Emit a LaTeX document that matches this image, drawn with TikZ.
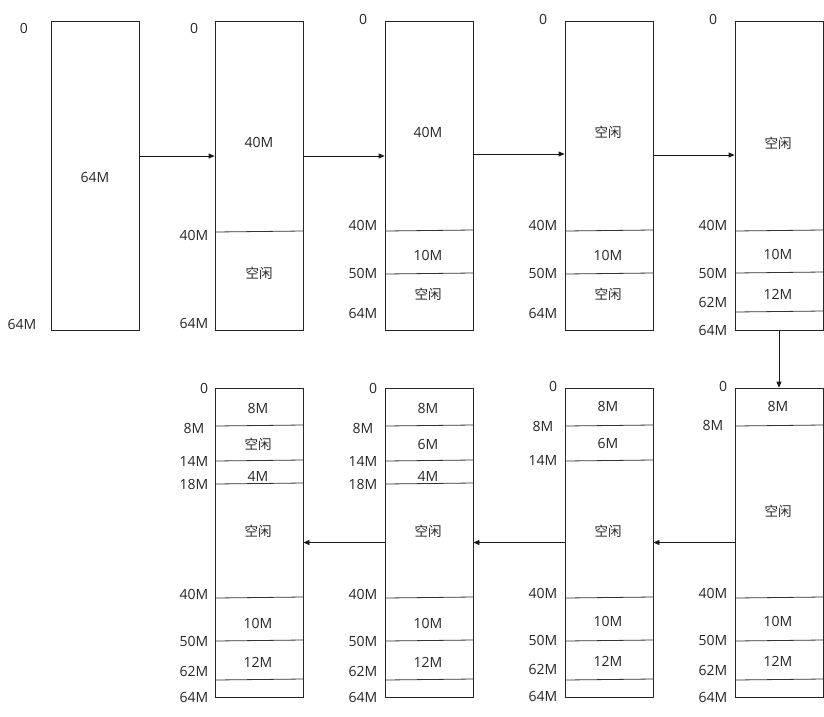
\documentclass[tikz,border=0pt]{standalone}
\usepackage{fontspec}
\setmainfont{Open Sans}
\newfontfamily\cjk{Noto Sans CJK SC}
\newcommand{\kx}{{\cjk\fontsize{13.5}{15}\selectfont 空闲}}
\usetikzlibrary{arrows.meta}
\tikzset{
  mem/.style={draw=black!85, line width=0.8pt, minimum width=88pt, minimum height=309pt, inner sep=0pt},
  div/.style={draw=black!80, line width=0.8pt},
  lbl/.style={font=\fontsize{14}{16}\selectfont, text=black!85, inner sep=0pt},
  flow/.style={draw=black!90, line width=0.8pt, -{Triangle[length=6pt,width=5pt]}}
}
\begin{document}
\begin{tikzpicture}[x=1pt,y=-1pt]
\useasboundingbox (0,0) rectangle (824,716);
% ---------- top row ----------
\node[mem] (b1) at (95,175.5) {};
\node[mem] (b2) at (259,175.5) {};
\node[mem] (b3) at (429,175.5) {};
\node[mem] (b4) at (609,175.5) {};
\node[mem] (b5) at (779,175.5) {};
% ---------- bottom row ----------
\node[mem] (b6) at (779,542.5) {};
\node[mem] (b7) at (609,542.5) {};
\node[mem] (b8) at (429,542.5) {};
\node[mem] (b9) at (259,542.5) {};

% box 1
\node[lbl] (t1a) at (95,177) {64M};
\node[lbl] (l1a) at (24,28) {0};
\node[lbl] (l1b) at (22,324) {64M};
% box 2
\draw[div] (215,232) -- (303,231);
\node[lbl] (t2a) at (259,142) {40M};
\node[lbl] (t2b) at (259,273) {\kx};
\node[lbl] (l2a) at (194,28) {0};
\node[lbl] (l2b) at (194,235) {40M};
\node[lbl] (l2c) at (194,323) {64M};
% box 3
\draw[div] (385,231) -- (473,230);
\draw[div] (385,274) -- (473,273);
\node[lbl] (t3a) at (428,132) {40M};
\node[lbl] (t3b) at (428,255) {10M};
\node[lbl] (t3c) at (428,294) {\kx};
\node[lbl] (l3a) at (363,19) {0};
\node[lbl] (l3b) at (363,225) {40M};
\node[lbl] (l3c) at (363,273) {50M};
\node[lbl] (l3d) at (363,313) {64M};
% box 4
\draw[div] (565,231) -- (653,230);
\draw[div] (565,274) -- (653,273);
\node[lbl] (t4a) at (608,132) {\kx};
\node[lbl] (t4b) at (608,255) {10M};
\node[lbl] (t4c) at (608,294) {\kx};
\node[lbl] (l4a) at (543,19) {0};
\node[lbl] (l4b) at (543,225) {40M};
\node[lbl] (l4c) at (543,273) {50M};
\node[lbl] (l4d) at (543,313) {64M};
% box 5
\draw[div] (735,231) -- (823,230);
\draw[div] (735,273) -- (823,272);
\draw[div] (735,312) -- (823,311);
\node[lbl] (t5a) at (778,143) {\kx};
\node[lbl] (t5b) at (778,254) {10M};
\node[lbl] (t5c) at (778,294) {12M};
\node[lbl] (l5a) at (713,19) {0};
\node[lbl] (l5b) at (713,225) {40M};
\node[lbl] (l5c) at (713,273) {50M};
\node[lbl] (l5d) at (713,302) {62M};
\node[lbl] (l5e) at (713,330) {64M};

% box 6
\draw[div] (735,426) -- (823,425);
\draw[div] (735,598) -- (823,597);
\draw[div] (735,641) -- (823,640);
\draw[div] (735,680) -- (823,679);
\node[lbl] (t6a) at (778,406) {8M};
\node[lbl] (t6b) at (778,511) {\kx};
\node[lbl] (t6c) at (778,621) {10M};
\node[lbl] (t6d) at (778,661) {12M};
\node[lbl] (l6a) at (723,386) {0};
\node[lbl] (l6b) at (713,425) {8M};
\node[lbl] (l6c) at (713,593) {40M};
\node[lbl] (l6d) at (713,640) {50M};
\node[lbl] (l6e) at (713,670) {62M};
\node[lbl] (l6f) at (713,697) {64M};
% box 7
\draw[div] (565,426) -- (653,425);
\draw[div] (565,461) -- (653,460);
\draw[div] (565,598) -- (653,597);
\draw[div] (565,641) -- (653,640);
\draw[div] (565,680) -- (653,679);
\node[lbl] (t7a) at (608,406) {8M};
\node[lbl] (t7b) at (608,443) {6M};
\node[lbl] (t7c) at (608,531) {\kx};
\node[lbl] (t7d) at (608,621) {10M};
\node[lbl] (t7e) at (608,661) {12M};
\node[lbl] (l7a) at (553,386) {0};
\node[lbl] (l7b) at (543,426) {8M};
\node[lbl] (l7c) at (543,460) {14M};
\node[lbl] (l7d) at (543,593) {40M};
\node[lbl] (l7e) at (543,640) {50M};
\node[lbl] (l7f) at (543,669) {62M};
\node[lbl] (l7g) at (543,696) {64M};
% box 8
\draw[div] (385,426) -- (473,425);
\draw[div] (385,461) -- (473,460);
\draw[div] (385,484) -- (473,483);
\draw[div] (385,598) -- (473,597);
\draw[div] (385,641) -- (473,640);
\draw[div] (385,680) -- (473,679);
\node[lbl] (t8a) at (428,408) {8M};
\node[lbl] (t8b) at (428,444) {6M};
\node[lbl] (t8c) at (428,476) {4M};
\node[lbl] (t8d) at (428,531) {\kx};
\node[lbl] (t8e) at (428,623) {10M};
\node[lbl] (t8f) at (428,662) {12M};
\node[lbl] (l8a) at (373,388) {0};
\node[lbl] (l8b) at (363,428) {8M};
\node[lbl] (l8c) at (363,461) {14M};
\node[lbl] (l8d) at (363,484) {18M};
\node[lbl] (l8e) at (363,594) {40M};
\node[lbl] (l8f) at (363,641) {50M};
\node[lbl] (l8g) at (363,671) {62M};
\node[lbl] (l8h) at (363,697) {64M};
% box 9
\draw[div] (215,426) -- (303,425);
\draw[div] (215,461) -- (303,460);
\draw[div] (215,484) -- (303,483);
\draw[div] (215,598) -- (303,597);
\draw[div] (215,641) -- (303,640);
\draw[div] (215,680) -- (303,679);
\node[lbl] (t9a) at (258,408) {8M};
\node[lbl] (t9b) at (258,444) {\kx};
\node[lbl] (t9c) at (258,476) {4M};
\node[lbl] (t9d) at (258,531) {\kx};
\node[lbl] (t9e) at (258,623) {10M};
\node[lbl] (t9f) at (258,662) {12M};
\node[lbl] (l9a) at (204,388) {0};
\node[lbl] (l9b) at (194,428) {8M};
\node[lbl] (l9c) at (194,461) {14M};
\node[lbl] (l9d) at (194,484) {18M};
\node[lbl] (l9e) at (194,594) {40M};
\node[lbl] (l9f) at (194,641) {50M};
\node[lbl] (l9g) at (194,671) {62M};
\node[lbl] (l9h) at (194,697) {64M};

% ---------- connectors ----------
\draw[flow] ([yshift=19.5pt]b1.east) -- ([yshift=19.5pt]b2.west);
\draw[flow] ([yshift=19.5pt]b2.east) -- ([yshift=19.5pt]b3.west);
\draw[flow] ([yshift=21.5pt]b3.east) -- ([yshift=21.5pt]b4.west);
\draw[flow] ([yshift=20.5pt]b4.east) -- ([yshift=20.5pt]b5.west);
\draw[flow] (b5.south) -- (b6.north);
\draw[flow] (b6.west) -- (b7.east);
\draw[flow] (b7.west) -- (b8.east);
\draw[flow] (b8.west) -- (b9.east);
\end{tikzpicture}
\end{document}
